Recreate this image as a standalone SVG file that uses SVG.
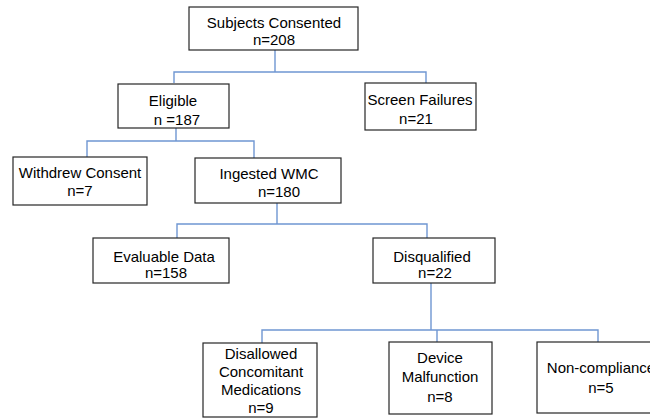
<svg xmlns="http://www.w3.org/2000/svg" width="650" height="418" viewBox="0 0 650 418">
<style>
.box{fill:#fff;stroke:#262626;stroke-width:1.2}
.t{font-family:"Liberation Sans",Arial,sans-serif;font-size:15px;fill:#000;text-anchor:middle}
.c{fill:none;stroke:#6f96d2;stroke-width:1.4}
</style>
<rect width="650" height="418" fill="#fff"/>
<g id="connectors">
<path class="c" d="M275 50V72M174 83V72H426V83"/>
<path class="c" d="M176 128V141M87 157V141H254V158"/>
<path class="c" d="M277 203V224M177 238V224H427V238"/>
<path class="c" d="M431 283V330M262 343V330H598V342M437 330V342"/>
</g>
<g id="consented"><rect class="box" x="189" y="7" width="169" height="43"/><text class="t" x="274" y="28">Subjects Consented</text><text class="t" x="274" y="45">n=208</text></g>
<g id="eligible"><rect class="box" x="118" y="84" width="111" height="44"/><text class="t" x="173" y="106">Eligible</text><text class="t" x="177" y="125">n =187</text></g>
<g id="screen"><rect class="box" x="365" y="83" width="111" height="47"/><text class="t" x="420" y="105">Screen Failures</text><text class="t" x="416" y="124">n=21</text></g>
<g id="withdrew"><rect class="box" x="13" y="157" width="134" height="48"/><text class="t" x="80" y="178">Withdrew Consent</text><text class="t" x="80" y="196">n=7</text></g>
<g id="ingested"><rect class="box" x="195" y="158" width="146" height="45"/><text class="t" x="269" y="179">Ingested WMC</text><text class="t" x="279" y="197">n=180</text></g>
<g id="evaluable"><rect class="box" x="93" y="238" width="136" height="45"/><text class="t" x="164" y="262">Evaluable Data</text><text class="t" x="166" y="278">n=158</text></g>
<g id="disqualified"><rect class="box" x="373" y="238" width="122" height="45"/><text class="t" x="432" y="262">Disqualified</text><text class="t" x="435" y="278">n=22</text></g>
<g id="disallowed"><rect class="box" x="203" y="343" width="114" height="74"/><text class="t" x="261" y="359">Disallowed</text><text class="t" x="261" y="377">Concomitant</text><text class="t" x="261" y="395">Medications</text><text class="t" x="261" y="413">n=9</text></g>
<g id="device"><rect class="box" x="389" y="342" width="103" height="72"/><text class="t" x="440" y="363">Device</text><text class="t" x="440" y="382">Malfunction</text><text class="t" x="440" y="402">n=8</text></g>
<g id="noncompliance"><rect class="box" x="537" y="342" width="128" height="71"/><text class="t" x="601" y="373">Non-compliance</text><text class="t" x="601" y="393">n=5</text></g>
</svg>
